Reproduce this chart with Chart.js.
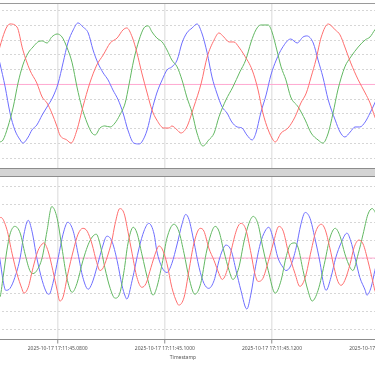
<!DOCTYPE html>
<html><head><meta charset="utf-8">
<script src="https://cdn.jsdelivr.net/npm/chart.js@4.4.1/dist/chart.umd.min.js"></script>
<style>
html,body{margin:0;padding:0;background:#fff;overflow:hidden;width:375px;height:366px;}
#wrap{position:relative;width:375px;height:366px;overflow:hidden;background:#fff;}
#topBox{position:absolute;left:-50px;top:0;width:466px;height:168px;}
#botBox{position:absolute;left:-50px;top:177px;width:466px;height:189px;}
#band{position:absolute;left:0;top:168px;width:375px;height:7px;background:#d4d4d4;border-top:1px solid #8c8c8c;border-bottom:1px solid #8c8c8c;}
#topLine{position:absolute;left:0;top:3px;width:375px;height:1px;background:#9a9a9a;}
</style></head><body>
<div id="wrap">
  <div id="topBox"><canvas id="cTop" width="466" height="168"></canvas></div>
  <div id="topLine"></div>
  <div id="band"></div>
  <div id="botBox"><canvas id="cBot" width="466" height="189"></canvas></div>
</div>
<script>
// time axis in milliseconds after 17:11:45
const xMin = 59.9, xMax = 146.88;
const tickValues = [80, 100, 120, 140];
const tickLabels = ['2025-10-17 17:11:45.0800','2025-10-17 17:11:45.1000','2025-10-17 17:11:45.1200','2025-10-17 17:11:45.1400'];
const axisTitle = 'Timestamp';
const topYMin = -566, topYMax = 552;
const botYMin = -457, botYMax = 455;
const zeroLine = [[59.9,0],[146.88,0]];

// upper panel: three phase signals [t, value]
const vRed = [[68.3,100],[69.2,254],[71.1,410],[72.4,390],[73.5,234],[74.8,98],[76.1,10],[77.1,-85],[78.0,-125],[78.9,-193],[79.9,-288],[80.4,-342],[81.7,-376],[82.5,-397],[83.6,-308],[84.7,-153],[86.0,10],[87.3,132],[88.5,200],[89.8,281],[91.1,315],[92.2,370],[92.9,383],[93.9,322],[94.8,214],[95.7,78],[96.7,-58],[97.6,-173],[98.5,-241],[99.8,-295],[100.8,-295],[101.3,-281],[102.3,-308],[103.0,-329],[104.1,-288],[105.4,-153],[106.8,10],[107.9,186],[109.2,302],[110.1,349],[111.0,322],[112.0,288],[112.9,288],[113.8,254],[114.8,200],[116.3,98],[117.4,-37],[118.3,-193],[119.3,-308],[120.2,-376],[120.6,-390],[121.7,-329],[123.0,-295],[124.3,-220],[125.4,-125],[126.4,-58],[127.3,51],[128.2,166],[129.2,322],[130.5,410],[131.8,370],[132.7,336],[133.6,254],[134.7,146],[136.1,31],[137.4,-58],[138.3,-125],[139.2,-220],[140.2,-300]];
const vGreen = [[68.5,-397],[69.2,-390],[69.8,-376],[70.7,-288],[71.7,-153],[72.6,10],[73.5,132],[74.5,214],[75.4,254],[76.3,288],[77.1,295],[78.0,281],[78.9,322],[79.9,342],[80.8,322],[81.7,254],[82.7,146],[83.6,-17],[84.5,-153],[85.5,-261],[86.4,-329],[87.0,-342],[87.9,-295],[88.8,-281],[89.8,-288],[90.7,-261],[91.6,-207],[92.6,-125],[93.3,-3],[94.2,166],[95.2,302],[96.1,383],[96.9,397],[97.6,356],[98.5,315],[99.5,288],[100.4,234],[101.3,166],[102.3,119],[103.2,31],[104.1,-85],[105.1,-193],[106.0,-329],[107.1,-417],[108.2,-376],[109.2,-329],[110.1,-220],[111.4,-105],[112.7,-17],[114.0,85],[115.1,166],[116.1,288],[117.0,370],[117.9,403],[119.3,403],[120.0,356],[120.9,234],[121.7,119],[122.6,31],[123.5,-85],[124.9,-153],[126.2,-241],[127.3,-329],[128.6,-376],[129.5,-397],[130.5,-329],[131.4,-193],[132.3,-37],[133.6,119],[134.7,186],[136.1,254],[137.4,302],[138.3,322],[139.2,370],[140.2,410]];
const vBlue = [[68.3,288],[69.2,146],[70.2,-17],[71.1,-193],[72.0,-308],[73.0,-376],[73.5,-397],[74.5,-356],[75.2,-308],[76.1,-275],[77.1,-207],[78.0,-153],[79.1,-85],[80.1,10],[81.0,146],[81.9,281],[82.9,370],[83.8,417],[84.7,390],[85.7,349],[86.6,234],[87.5,146],[88.5,78],[89.4,31],[90.3,-37],[91.3,-105],[92.2,-193],[93.1,-308],[94.2,-397],[95.2,-403],[95.7,-390],[96.7,-308],[97.6,-173],[98.5,-58],[99.5,31],[100.4,98],[101.3,119],[102.3,166],[103.2,281],[104.1,349],[105.1,383],[106.0,410],[106.9,349],[107.9,214],[108.8,51],[109.7,-58],[110.7,-153],[111.6,-193],[112.5,-254],[113.5,-288],[114.4,-295],[115.3,-342],[116.3,-376],[117.0,-329],[117.9,-193],[118.9,-71],[119.8,64],[120.8,166],[121.9,247],[123.5,308],[124.7,281],[125.8,322],[126.5,329],[127.7,281],[128.6,166],[129.5,51],[130.5,-105],[131.8,-241],[132.7,-322],[133.6,-356],[134.6,-322],[135.5,-288],[136.4,-288],[137.4,-254],[138.3,-193],[139.2,-125],[140.2,-37]];

// lower panel: three phase signals [t, value]
const iRed = [[68.5,190],[69.4,228],[70.5,162],[71.5,24],[72.4,-87],[73.3,-170],[73.7,-197],[74.5,-164],[75.4,-54],[76.3,40],[77.1,79],[77.4,85],[78.2,40],[79.1,-70],[79.9,-181],[80.4,-241],[81.0,-219],[81.9,-87],[82.9,40],[83.8,134],[84.7,167],[85.5,151],[86.4,79],[87.3,-26],[87.9,-70],[88.5,-54],[89.2,2],[90.1,96],[90.7,190],[91.6,278],[92.4,250],[93.1,151],[93.9,24],[94.8,-109],[95.7,-164],[96.5,-142],[97.4,-54],[98.4,40],[98.9,68],[99.5,51],[100.4,-31],[101.3,-164],[102.3,-252],[102.6,-264],[103.6,-219],[104.5,-70],[105.4,79],[106.6,167],[107.3,151],[108.2,57],[109.2,-15],[110.1,-87],[110.7,-120],[111.6,-70],[112.5,57],[113.5,167],[114.2,195],[115.1,162],[116.1,24],[116.8,-87],[117.4,-131],[118.3,-114],[119.3,-20],[120.2,79],[121.3,178],[122.1,151],[123.0,40],[124.3,-87],[125.2,-159],[126.2,-109],[127.3,40],[128.2,151],[129.2,190],[129.9,162],[130.8,57],[131.6,-54],[132.3,-131],[132.9,-153],[133.6,-125],[134.6,-31],[135.3,57],[136.2,101],[137.0,79],[137.9,-15],[138.9,-142],[139.2,-181],[140.2,-225]];
const iGreen = [[68.5,-225],[69.2,-219],[69.8,-109],[70.5,40],[71.1,134],[72.0,178],[73.0,140],[73.9,24],[74.8,-70],[75.4,-87],[76.1,-70],[77.1,2],[78.0,151],[78.9,289],[79.9,223],[80.8,57],[81.7,-109],[82.7,-192],[83.6,-142],[84.7,-15],[86.0,96],[87.2,134],[87.9,79],[88.8,-54],[89.8,-170],[90.7,-225],[91.6,-197],[92.4,-70],[93.1,79],[94.1,173],[94.8,140],[95.7,24],[97.0,-142],[97.8,-208],[98.5,-164],[99.5,-31],[100.4,112],[101.7,190],[102.6,151],[103.6,24],[104.5,-109],[105.6,-203],[106.7,-142],[107.7,24],[108.6,134],[109.4,178],[110.1,151],[111.0,40],[112.0,-70],[112.7,-120],[113.8,-54],[114.8,96],[115.7,195],[116.5,234],[117.4,190],[118.3,57],[119.3,-70],[120.6,-197],[121.7,-125],[122.6,2],[123.5,79],[124.3,85],[124.9,57],[125.8,-70],[126.7,-181],[127.5,-241],[128.6,-181],[129.9,-15],[130.8,112],[131.8,167],[132.7,123],[133.6,24],[134.6,-54],[135.1,-70],[136.1,24],[137.0,134],[137.9,245],[138.7,278],[139.2,261],[140.2,190]];
const iBlue = [[68.5,107],[69.2,-4],[69.8,-125],[70.3,-181],[71.1,-170],[72.0,-109],[73.0,2],[73.7,134],[74.5,212],[75.2,151],[76.1,2],[77.1,-125],[78.0,-197],[78.4,-203],[79.1,-142],[80.1,2],[81.0,134],[81.9,201],[82.9,151],[83.8,24],[84.7,-109],[85.7,-175],[86.4,-142],[87.3,-54],[88.3,57],[89.2,123],[90.1,96],[91.1,-15],[92.0,-153],[92.6,-214],[92.9,-230],[93.9,-125],[95.2,57],[96.1,151],[97.0,195],[98.0,134],[98.5,40],[99.5,-54],[100.4,-81],[101.3,-31],[102.3,79],[103.2,190],[103.9,245],[104.5,217],[105.4,96],[106.4,-54],[107.3,-142],[108.2,-170],[109.2,-125],[110.1,-15],[110.7,40],[111.4,73],[112.4,40],[113.3,-70],[114.2,-181],[115.3,-286],[116.1,-197],[116.8,-70],[117.8,79],[118.7,151],[119.4,173],[120.2,112],[121.1,2],[122.1,-54],[122.6,-70],[123.5,-43],[124.5,57],[125.4,190],[126.2,256],[127.1,223],[128.0,112],[129.0,-31],[129.5,-125],[130.1,-181],[131.0,-109],[131.9,2],[132.9,85],[134.0,140],[134.7,96],[135.5,2],[136.4,-109],[137.4,-181],[137.7,-208],[138.5,-164],[139.2,-70],[140.2,51]];

const RED = '#ff6e6e', GREEN = '#62b862', BLUE = '#6e6eff', PINK = '#ffaad2';
const FONT = {family: "'Noto Sans', 'DejaVu Sans', sans-serif", size: 5};

function pts(a) { return a.map(p => ({x: p[0], y: p[1]})); }
function ds(a, color) {
  return {data: pts(a), borderColor: color, borderWidth: 1, pointRadius: 0, fill: false,
          cubicInterpolationMode: 'monotone'};
}
function xScale(show) {
  return {
    type: 'linear', min: xMin, max: xMax,
    afterBuildTicks: s => { s.ticks = tickValues.map(v => ({value: v})); },
    grid: {color: '#e6e6e6', lineWidth: 1.5, drawTicks: show, tickLength: 4, tickColor: '#8c8c8c', tickWidth: 1},
    border: {display: show, color: '#8c8c8c', width: 1},
    ticks: {display: show, autoSkip: false, maxRotation: 0, minRotation: 0, padding: 2.5, color: '#555',
            font: FONT, callback: v => tickLabels[tickValues.indexOf(v)]},
    title: {display: show, text: axisTitle, color: '#555', font: FONT, padding: {top: 0, bottom: 0}}
  };
}
function yScale(min, max) {
  return {
    type: 'linear', min: min, max: max,
    ticks: {display: false, stepSize: 100, includeBounds: false},
    grid: {color: '#d6d6d6', lineWidth: 1, drawTicks: false},
    border: {display: false, dash: [2, 2]}
  };
}
function makeChart(id, series, ymin, ymax, showX, padding) {
  return new Chart(document.getElementById(id), {
    type: 'line',
    data: {datasets: [ds(series[0], RED), ds(series[1], GREEN), ds(series[2], BLUE), ds(zeroLine, PINK)]},
    options: {
      responsive: false, animation: false, devicePixelRatio: 1,
      layout: {padding: padding},
      plugins: {legend: {display: false}, tooltip: {enabled: false}},
      scales: {x: xScale(showX), y: yScale(ymin, ymax)}
    }
  });
}
makeChart('cTop', [vRed, vGreen, vBlue], topYMin, topYMax, false, {top: 3, left: 0, right: 0, bottom: 0});
makeChart('cBot', [iRed, iGreen, iBlue], botYMin, botYMax, true, {top: 0, left: 0, right: 0, bottom: 5.5});
</script>
</body></html>
